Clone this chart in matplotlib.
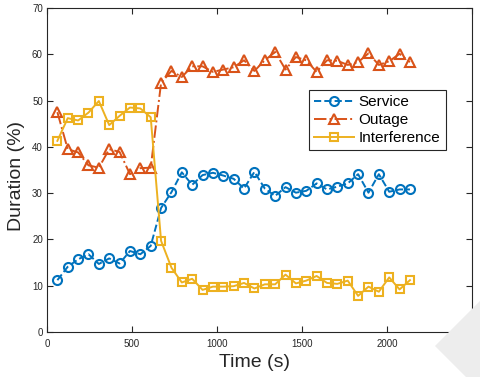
import matplotlib
matplotlib.use("Agg")
import matplotlib.pyplot as plt
from matplotlib.patches import Polygon

plt.rcParams["font.family"] = ["Liberation Sans", "DejaVu Sans"]

# time step ~61 s, 35 samples
time_s = [61 * k for k in range(1, 36)]

service = [11.2, 14.1, 15.7, 16.8, 14.7, 15.9, 14.8, 17.5, 16.8, 18.6,
           26.8, 30.2, 34.5, 31.8, 33.9, 34.4, 33.8, 33.1, 31.0, 34.6,
           31.0, 29.4, 31.3, 30.1, 30.5, 32.1, 30.8, 31.4, 32.1, 34.1,
           30.1, 34.1, 30.3, 30.8, 30.8]
outage = [47.5, 39.5, 38.8, 36.0, 35.5, 39.5, 38.9, 34.1, 35.4, 35.5,
          53.8, 56.4, 55.1, 57.4, 57.4, 56.2, 56.7, 57.2, 58.7, 56.4,
          58.7, 60.5, 56.7, 59.4, 58.7, 56.2, 58.7, 58.6, 57.7, 58.3,
          60.2, 57.7, 58.5, 60.1, 58.3]
interference = [41.3, 46.2, 45.7, 47.4, 49.9, 44.7, 46.7, 48.5, 48.3, 46.4,
                19.7, 13.9, 10.7, 11.5, 9.1, 9.8, 9.8, 9.9, 10.6, 9.4,
                10.3, 10.3, 12.4, 10.5, 11.1, 12.1, 10.6, 10.4, 11.1, 7.8,
                9.8, 8.7, 11.8, 9.2, 11.2]

x_ticks = [0, 500, 1000, 1500, 2000, 2500]
y_ticks = [0, 10, 20, 30, 40, 50, 60, 70]

W, H = 481, 377
fig = plt.figure(figsize=(W / 100, H / 100), dpi=100)

# decorative light-gray chevron at bottom right
poly = Polygon([(481 / W, 1 - 300 / H), (435 / W, 1 - 346 / H),
                (466 / W, 0.0), (1.0, 0.0)],
               closed=True, transform=fig.transFigure,
               facecolor="#ededed", edgecolor="none", zorder=0)
fig.patches.append(poly)

ax = fig.add_axes([47 / W, 1 - 332 / H, 425 / W, 324 / H])

c_s, c_o, c_i = "#0072BD", "#D95319", "#EDB120"
kw = dict(markerfacecolor="none", markeredgewidth=1.5, linewidth=1.4)
ax.plot(time_s, service, linestyle="--", marker="o", markersize=6.5, color=c_s, label="Service", **kw)
ax.plot(time_s, outage, linestyle="-.", marker="^", markersize=7.5, color=c_o, label="Outage", **kw)
ax.plot(time_s, interference, linestyle="-", marker="s", markersize=6, color=c_i, label="Interference", **kw)

ax.set_xlim(0, 2500)
ax.set_ylim(0, 70)
ax.set_xticks(x_ticks)
ax.set_yticks(y_ticks)
ax.tick_params(direction="in", top=True, right=True, labelsize=7,
               colors="#262626", length=4, width=0.8)
ax.tick_params(axis="x", pad=5)
ax.tick_params(axis="y", pad=3)
for sp in ax.spines.values():
    sp.set_color("#262626")
    sp.set_linewidth(0.8)

ax.set_xlabel("Time (s)", fontsize=14, color="#262626")
ax.set_ylabel("Duration (%)", fontsize=14, color="#262626")
ax.xaxis.set_label_coords(0.489, -0.068)
ax.yaxis.set_label_coords(-0.052, 0.482)

leg = ax.legend(loc="upper left", bbox_to_anchor=(0.616, 0.747), borderaxespad=0,
                fancybox=False, edgecolor="#262626", fontsize=11,
                handlelength=2.6, handletextpad=0.3, borderpad=0.35,
                labelspacing=0.25, framealpha=1)
leg.get_frame().set_linewidth(0.8)

fig.savefig("out.png", dpi=100)
